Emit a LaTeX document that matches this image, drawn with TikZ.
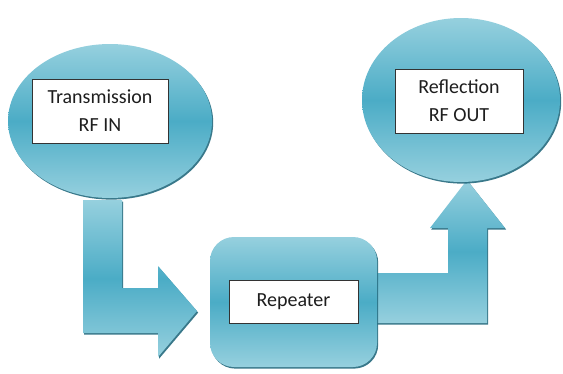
\documentclass[tikz,border=0pt]{standalone}
\usepackage{fontspec}
\setmainfont{Carlito}
\usetikzlibrary{shapes.geometric,shadows}
\definecolor{tlight}{RGB}{150,208,222}
\definecolor{tdark}{RGB}{75,172,198}
\definecolor{tedge}{RGB}{35,105,125}
\definecolor{txt}{RGB}{30,30,30}
\tikzset{
  blob/.style={top color=tlight, bottom color=tlight, middle color=tdark, draw=none,
    drop shadow={shadow xshift=1.2pt, shadow yshift=-1.6pt, fill=tedge, opacity=0.9}},
  labelbox/.style={draw=black!80, fill=white, line width=0.9pt, align=center,
    text=txt, font=\fontsize{20}{28}\selectfont, inner sep=0pt},
}
\begin{document}
\begin{tikzpicture}[x=1pt,y=-1pt]
\useasboundingbox (0,0) rectangle (563,373);
% block arrows
\path[blob] (83,200) -- (122,200) -- (122,288) -- (158,288) -- (158,266) -- (197,311)
  -- (158,357) -- (158,333) -- (83,333) -- cycle;
\path[blob] (360,273) -- (448,273) -- (448,228) -- (430,228) -- (467,180) -- (505,228)
  -- (487,228) -- (487,323) -- (360,323) -- cycle;
% repeater
\node[blob, rectangle, rounded corners=24pt, minimum width=167pt, minimum height=130pt,
  inner sep=0pt] (rep) at (293.5,302) {};
\node[labelbox, minimum width=129pt, minimum height=43pt] (repl) at (rep.center) {Repeater};
% ellipses
\node[blob, ellipse, minimum width=204pt, minimum height=154pt, inner sep=0pt] (in) at (110,121) {};
\node[labelbox, minimum width=136pt, minimum height=64pt] (inl) at (100,111) {Transmission\\RF IN};
\node[blob, ellipse, minimum width=198pt, minimum height=164pt, inner sep=0pt] (out) at (461,100) {};
\node[labelbox, minimum width=128pt, minimum height=64pt] (outl) at (459,101) {Reflection\\RF OUT};
\end{tikzpicture}
\end{document}
